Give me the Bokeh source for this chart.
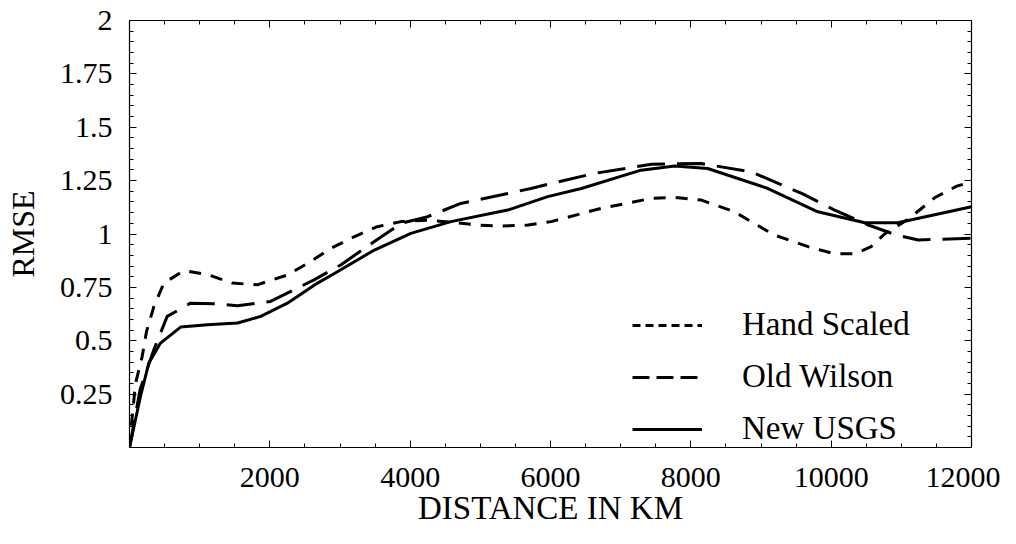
from bokeh.plotting import figure
from bokeh.models import (Range1d, LinearAxis, FixedTicker, CustomJSTickFormatter,
                          Legend, LegendItem, ColumnDataSource)
from bokeh.embed import file_html
from bokeh.resources import INLINE

# ---- data ----
hand_x = [0, 40, 86, 181, 243, 347, 490, 775, 1130, 1465, 1820, 2250, 2580, 2870, 3200,
          3530, 3870, 4250, 4600, 4960, 5300, 5680, 6010, 6720, 7440, 7770, 8150, 8620,
          9190, 9670, 10050, 10340, 10570, 10760, 11100, 11480, 11790, 12000]
hand_y = [0, 0.15, 0.30, 0.427, 0.544, 0.66, 0.77, 0.829, 0.808, 0.77, 0.762, 0.808,
          0.871, 0.933, 0.987, 1.034, 1.058, 1.065, 1.055, 1.042, 1.037, 1.042, 1.058,
          1.12, 1.167, 1.171, 1.159, 1.104, 0.995, 0.941, 0.907, 0.907, 0.941, 1.0,
          1.07, 1.171, 1.224, 1.245]

wilson_x = [0, 150, 347, 537, 870, 1250, 1540, 2010, 2390, 2630, 3010, 3490, 3870, 4250,
            4720, 5390, 5720, 6010, 6630, 7440, 8150, 8860, 9580, 10050, 10530, 10930,
            11240, 12000]
wilson_y = [0, 0.27, 0.458, 0.614, 0.676, 0.673, 0.664, 0.684, 0.746, 0.785, 0.855, 0.965,
            1.05, 1.081, 1.143, 1.19, 1.213, 1.237, 1.284, 1.327, 1.33, 1.291, 1.19, 1.112,
            1.042, 0.995, 0.972, 0.98]

usgs_x = [0, 157, 276, 442, 728, 1110, 1540, 1870, 2250, 2680, 2920, 3490, 4010, 4580,
          5390, 5960, 6440, 7290, 7770, 8240, 9100, 9810, 10480, 10950, 12000]
usgs_y = [0, 0.24, 0.396, 0.489, 0.564, 0.575, 0.583, 0.614, 0.676, 0.77, 0.815, 0.925,
          1.003, 1.058, 1.112, 1.175, 1.213, 1.299, 1.318, 1.307, 1.213, 1.104, 1.053,
          1.053, 1.128]

series_names = ["Hand Scaled", "Old Wilson", "New USGS"]
x_title = "DISTANCE IN KM"
y_title = "RMSE"

x_ticks = [2000, 4000, 6000, 8000, 10000, 12000]
x_minor = [i * 500 for i in range(0, 25)]
y_ticks = [0.25, 0.5, 0.75, 1.0, 1.25, 1.5, 1.75, 2.0]
y_minor = [round(i * 0.05, 2) for i in range(0, 41)]

FONT = "Liberation Serif"

p = figure(width=1000, height=528, output_backend="svg", toolbar_location=None,
           x_range=Range1d(0, 12000), y_range=Range1d(0, 2),
           min_border_left=129, min_border_right=29, min_border_top=20,
           min_border_bottom=80)
p.xgrid.visible = False
p.ygrid.visible = False
p.outline_line_color = "black"
p.outline_line_width = 1.2
p.background_fill_color = "white"
p.border_fill_color = "white"

fmt = CustomJSTickFormatter(code="return tick.toString();")
blank = CustomJSTickFormatter(code="return '';")

def style_axis(ax):
    ax.axis_line_color = "black"
    ax.major_tick_in = 7
    ax.major_tick_out = 0
    ax.minor_tick_in = 4
    ax.minor_tick_out = 0
    ax.major_tick_line_color = "black"
    ax.minor_tick_line_color = "black"
    ax.major_label_text_font = FONT
    ax.major_label_text_color = "black"
    ax.axis_label_text_font = FONT
    ax.axis_label_text_font_style = "normal"
    ax.axis_label_text_color = "black"

# bottom axis
xa = p.xaxis[0]
xa.ticker = FixedTicker(ticks=x_ticks, minor_ticks=x_minor)
xa.formatter = fmt
style_axis(xa)
xa.major_label_text_font_size = "30px"
xa.major_label_standoff = 20
xa.axis_label = x_title
xa.axis_label_text_font_size = "33px"
xa.axis_label_standoff = 0

# left axis
ya = p.yaxis[0]
ya.ticker = FixedTicker(ticks=y_ticks, minor_ticks=y_minor)
ya.formatter = fmt
style_axis(ya)
ya.major_label_text_font_size = "30px"
ya.major_label_standoff = 17
ya.axis_label = y_title
ya.axis_label_text_font_size = "32px"
ya.axis_label_standoff = 16

# top / right axes: ticks only
top = LinearAxis(ticker=FixedTicker(ticks=x_ticks, minor_ticks=x_minor), formatter=blank)
style_axis(top)
top.major_label_standoff = 0
p.add_layout(top, "above")
right = LinearAxis(ticker=FixedTicker(ticks=y_ticks, minor_ticks=y_minor), formatter=blank)
style_axis(right)
right.major_label_standoff = 0
p.add_layout(right, "right")

# lines
p.line(hand_x, hand_y, line_color="black", line_width=3, line_dash="12 10")
p.line(wilson_x, wilson_y, line_color="black", line_width=3, line_dash="28 12")
p.line(usgs_x, usgs_y, line_color="black", line_width=3)

# legend glyph renderers (no visible data, legend-specific dashes)
nan = float("nan")
lg_src = ColumnDataSource(data=dict(x=[nan], y=[nan]))
lg1 = p.line("x", "y", source=lg_src, line_color="black", line_width=3, line_dash="8 5")
lg2 = p.line("x", "y", source=lg_src, line_color="black", line_width=3, line_dash="17 7")
lg3 = p.line("x", "y", source=lg_src, line_color="black", line_width=3)

legend = Legend(items=[LegendItem(label=series_names[0], renderers=[lg1]),
                       LegendItem(label=series_names[1], renderers=[lg2]),
                       LegendItem(label=series_names[2], renderers=[lg3])],
                location=(503, 0))
legend.label_text_font = FONT
legend.label_text_font_size = "33px"
legend.label_text_color = "black"
legend.glyph_width = 70
legend.glyph_height = 28
legend.label_height = 28
legend.label_standoff = 40
legend.spacing = 15
legend.padding = 0
legend.margin = 0
legend.background_fill_alpha = 0
legend.border_line_alpha = 0
p.add_layout(legend, "center")

open("out.html", "w").write(file_html(p, INLINE))
